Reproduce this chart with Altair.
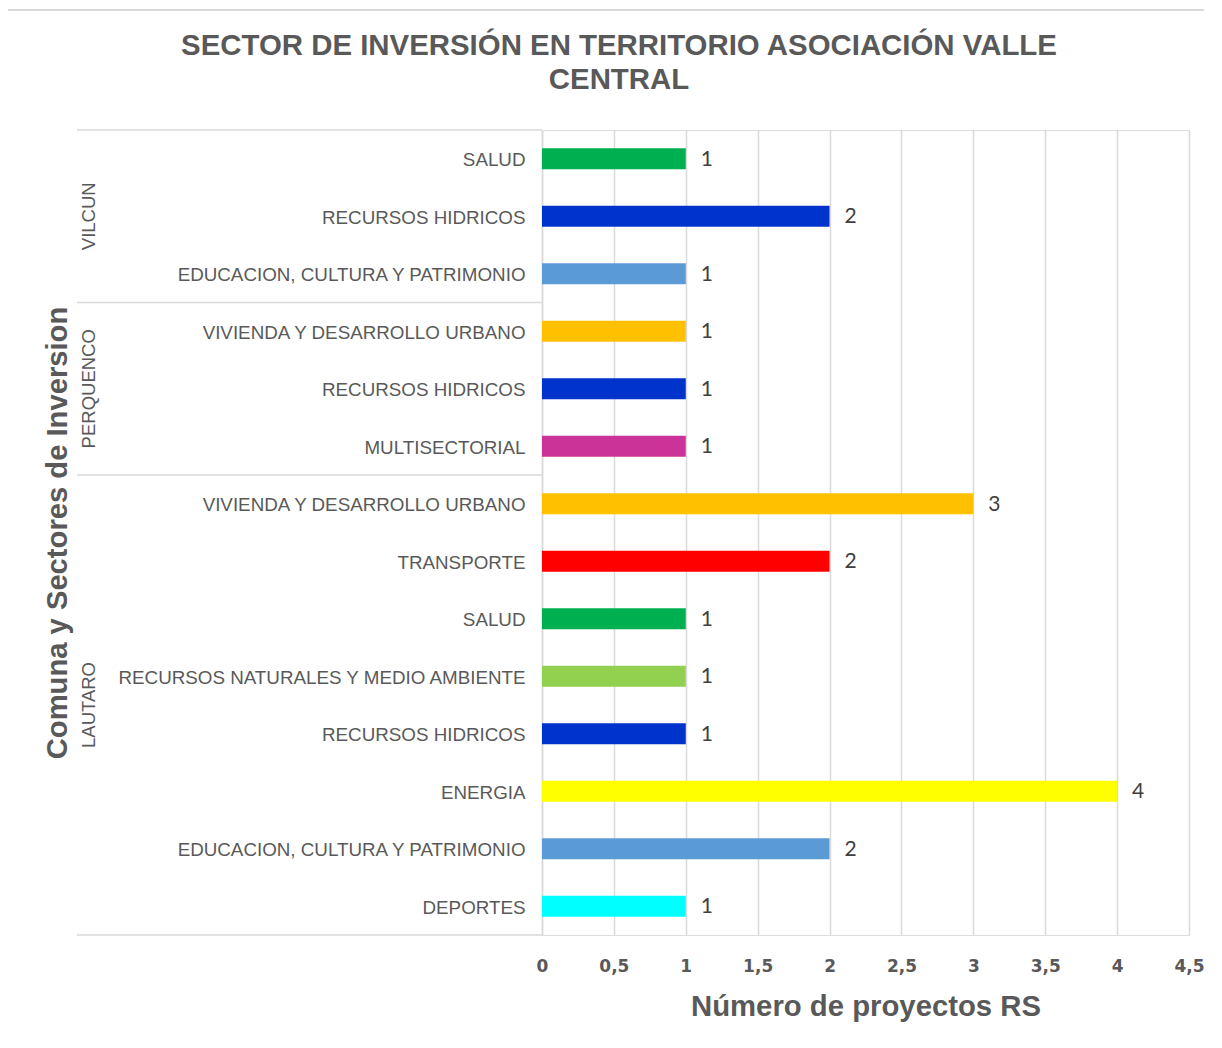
import altair as alt
import pandas as pd

# ---- data ----
comunas = ["VILCUN"] * 3 + ["PERQUENCO"] * 3 + ["LAUTARO"] * 8
sectores = [
    "SALUD", "RECURSOS HIDRICOS", "EDUCACION, CULTURA Y PATRIMONIO",
    "VIVIENDA Y DESARROLLO URBANO", "RECURSOS HIDRICOS", "MULTISECTORIAL",
    "VIVIENDA Y DESARROLLO URBANO", "TRANSPORTE", "SALUD",
    "RECURSOS NATURALES Y MEDIO AMBIENTE", "RECURSOS HIDRICOS", "ENERGIA",
    "EDUCACION, CULTURA Y PATRIMONIO", "DEPORTES",
]
valores = [1, 2, 1, 1, 1, 1, 3, 2, 1, 1, 1, 4, 2, 1]

color_sectores = [
    "SALUD", "RECURSOS HIDRICOS", "EDUCACION, CULTURA Y PATRIMONIO",
    "VIVIENDA Y DESARROLLO URBANO", "MULTISECTORIAL", "TRANSPORTE",
    "RECURSOS NATURALES Y MEDIO AMBIENTE", "ENERGIA", "DEPORTES",
]
color_valores = [
    "#00B050", "#0033CC", "#5B9BD5", "#FFC000", "#CC3399", "#FF0000",
    "#92D050", "#FFFF00", "#00FFFF",
]

x_ticks = [0, 0.5, 1, 1.5, 2, 2.5, 3, 3.5, 4, 4.5]

titulo = ["SECTOR DE INVERSIÓN EN TERRITORIO ASOCIACIÓN VALLE", "CENTRAL"]
titulo_x = "Número de proyectos RS"
titulo_y = "Comuna y Sectores de Inversion"

keys = [f"{c}|{s}" for c, s in zip(comunas, sectores)]
df = pd.DataFrame({"key": keys, "comuna": comunas, "sector": sectores, "valor": valores})

grupos = ["VILCUN", "PERQUENCO", "LAUTARO"]
starts, mids_odd, mids_even = [], [], []
for g in grupos:
    idx = [i for i, c in enumerate(comunas) if c == g]
    starts.append({"key": keys[idx[0]]})
    n = len(idx)
    if n % 2 == 1:
        mids_odd.append({"key": keys[idx[n // 2]], "comuna": g})
    else:
        mids_even.append({"key": keys[idx[n // 2]], "comuna": g})
ends = [{"key": keys[-1]}]

GRAY = "#595959"
LINE = "#D9D9D9"
yscale = alt.Scale(domain=keys, paddingInner=0, paddingOuter=0)
xscale = alt.Scale(domain=[0, 4.5], nice=False)

y_axis = alt.Axis(title=titulo_y, labelExpr="split(datum.label, '|')[1]",
                  ticks=False, domain=True, domainColor=LINE, domainWidth=1.5,
                  labelPadding=17, labelOffset=1.5, labelFont="Liberation Sans",
                  labelFontSize=18.8, labelColor=GRAY, labelLimit=600,
                  titleFont="Liberation Sans", titleFontSize=29.2,
                  titleFontWeight="bold", titleColor=GRAY,
                  titleX=-485, titleY=402.5, titleAngle=270,
                  titleAlign="center", titleBaseline="middle")

x_axis = alt.Axis(values=x_ticks, title=titulo_x, grid=True, gridColor=LINE,
                  gridWidth=1.5, domain=False, ticks=False, labelPadding=23,
                  labelFlush=False,
                  labelFont="DejaVu Sans", labelFontWeight="bold", labelFontSize=17,
                  labelColor=GRAY,
                  labelExpr="replace(toString(datum.value), '.', ',')",
                  titleFont="Liberation Sans", titleFontSize=29.3,
                  titleFontWeight="bold", titleColor=GRAY,
                  titleY=71, titleBaseline="middle")


def ypos(bp):
    return alt.Y("key:N", scale=yscale, sort=keys, axis=y_axis, bandPosition=bp)


bars = alt.Chart(df).mark_bar(height=21).encode(
    x=alt.X("valor:Q", scale=xscale, axis=x_axis),
    y=ypos(0.5),
    color=alt.Color("sector:N", scale=alt.Scale(domain=color_sectores, range=color_valores),
                    legend=None),
)

labels = alt.Chart(df).mark_text(align="left", baseline="middle", dx=15, dy=1,
                                 font="Lato", fontSize=21, color="#404040").encode(
    x=alt.X("valor:Q", scale=xscale, axis=x_axis),
    y=ypos(0.5),
    text=alt.Text("valor:Q"),
)

sep = alt.Chart(pd.DataFrame(starts)).mark_rule(color=LINE, strokeWidth=1.5).encode(
    y=ypos(0), x=alt.value(-465), x2=alt.value(0),
)
sep_end = alt.Chart(pd.DataFrame(ends)).mark_rule(color=LINE, strokeWidth=1.5).encode(
    y=ypos(1), x=alt.value(-465), x2=alt.value(0),
)

glab_odd = alt.Chart(pd.DataFrame(mids_odd)).mark_text(
    angle=270, align="center", baseline="middle", font="Liberation Sans",
    fontSize=18.5, color=GRAY).encode(
    y=ypos(0.5), x=alt.value(-453), text="comuna:N",
)
glab_even = alt.Chart(pd.DataFrame(mids_even)).mark_text(
    angle=270, align="center", baseline="middle", font="Liberation Sans",
    fontSize=18.5, color=GRAY).encode(
    y=ypos(0), x=alt.value(-453), text="comuna:N",
)

border = alt.Chart(pd.DataFrame({"a": [0]})).mark_rect(
    fill=None, stroke=LINE, strokeWidth=2).encode(
    x=alt.value(-536), x2=alt.value(720), y=alt.value(-120), y2=alt.value(1100),
)

chart = alt.layer(bars, labels, sep, sep_end, glab_odd, glab_even, border).properties(
    width=647, height=805,
    autosize=alt.AutoSizeParams(type="none"),
    padding={"left": 534, "top": 122, "right": 15, "bottom": 95},
    title=alt.TitleParams(text=titulo, anchor="middle", frame="group", dx=-246.5,
                          offset=0, dy=115, baseline="bottom",
                          font="Liberation Sans", fontSize=29.4,
                          fontWeight="bold", color=GRAY, lineHeight=34),
).configure_view(stroke=None).configure(background="white")

chart.save("out.html", embed_options={"renderer": "svg", "actions": False})
